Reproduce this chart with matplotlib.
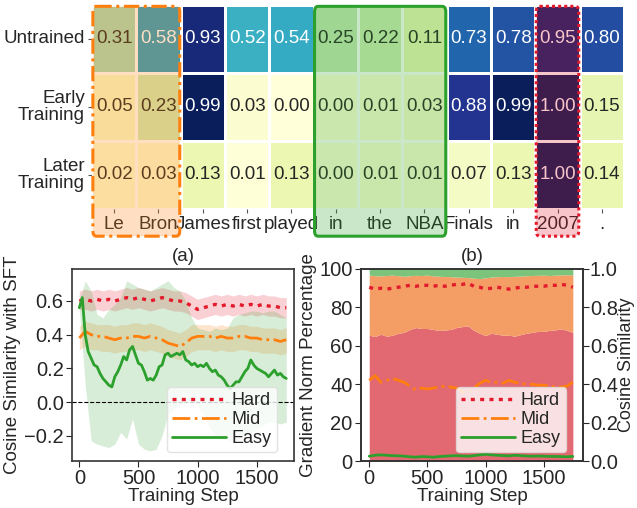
import numpy as np
import matplotlib
matplotlib.use("Agg")
import matplotlib.pyplot as plt
import seaborn as sns
from matplotlib.patches import FancyBboxPatch
from matplotlib.ticker import FormatStrFormatter

# --- heatmap data ---
tokens = ["Le", "Bron", "James", "first", "played", "in", "the", "NBA", "Finals", "in", "2007", "."]
stages = ["Untrained", "Early\nTraining", "Later\nTraining"]
untrained = [0.31, 0.58, 0.93, 0.52, 0.54, 0.25, 0.22, 0.11, 0.73, 0.78, 0.95, 0.80]
early = [0.05, 0.23, 0.99, 0.03, 0.00, 0.00, 0.01, 0.03, 0.88, 0.99, 1.00, 0.15]
later = [0.02, 0.03, 0.13, 0.01, 0.13, 0.00, 0.01, 0.01, 0.07, 0.13, 1.00, 0.14]

# --- panel (a): cosine similarity with SFT ---
steps = list(range(0, 1751, 50))
steps_fine = list(range(0, 1751, 25))
hard_mean = [0.60, 0.61, 0.60, 0.61, 0.60, 0.61, 0.60, 0.61, 0.62, 0.61, 0.62, 0.61,
             0.60, 0.61, 0.62, 0.61, 0.60, 0.60, 0.59, 0.57, 0.55, 0.56, 0.57, 0.58,
             0.57, 0.58, 0.57, 0.58, 0.57, 0.58, 0.57, 0.58, 0.57, 0.57, 0.56, 0.56]
hard_lo = [0.55, 0.55, 0.54, 0.55, 0.54, 0.55, 0.54, 0.55, 0.56, 0.55, 0.56, 0.55,
           0.54, 0.55, 0.56, 0.55, 0.54, 0.54, 0.53, 0.51, 0.49, 0.50, 0.51, 0.52,
           0.51, 0.52, 0.51, 0.52, 0.51, 0.52, 0.51, 0.52, 0.51, 0.51, 0.50, 0.50]
hard_hi = [0.66, 0.67, 0.66, 0.67, 0.66, 0.67, 0.66, 0.67, 0.68, 0.67, 0.68, 0.67,
           0.66, 0.67, 0.68, 0.67, 0.66, 0.66, 0.65, 0.63, 0.61, 0.62, 0.63, 0.64,
           0.63, 0.64, 0.63, 0.64, 0.63, 0.64, 0.63, 0.64, 0.63, 0.63, 0.62, 0.62]
mid_mean = [0.38, 0.42, 0.40, 0.39, 0.39, 0.38, 0.37, 0.38, 0.38, 0.39, 0.39, 0.38,
            0.39, 0.38, 0.37, 0.35, 0.34, 0.33, 0.35, 0.38, 0.39, 0.39, 0.39, 0.38,
            0.39, 0.38, 0.38, 0.39, 0.39, 0.38, 0.38, 0.37, 0.37, 0.37, 0.36, 0.37]
mid_lo = [0.31, 0.33, 0.31, 0.31, 0.30, 0.30, 0.29, 0.30, 0.30, 0.31, 0.31, 0.30,
          0.31, 0.30, 0.29, 0.27, 0.26, 0.25, 0.27, 0.30, 0.31, 0.31, 0.31, 0.30,
          0.31, 0.30, 0.30, 0.31, 0.31, 0.30, 0.30, 0.29, 0.29, 0.29, 0.28, 0.29]
mid_hi = [0.45, 0.48, 0.47, 0.46, 0.46, 0.46, 0.45, 0.46, 0.46, 0.47, 0.47, 0.46,
          0.47, 0.46, 0.45, 0.43, 0.42, 0.41, 0.43, 0.46, 0.46, 0.46, 0.46, 0.45,
          0.46, 0.45, 0.45, 0.46, 0.46, 0.45, 0.45, 0.44, 0.44, 0.44, 0.43, 0.44]
easy_mean = [0.56, 0.62, 0.40, 0.30, 0.26, 0.22, 0.21, 0.17, 0.14, 0.12, 0.10, 0.09,
             0.15, 0.18, 0.22, 0.27, 0.25, 0.31, 0.33, 0.28, 0.23, 0.22, 0.18, 0.13,
             0.14, 0.13, 0.16, 0.21, 0.22, 0.28, 0.29, 0.27, 0.28, 0.29, 0.28, 0.30,
             0.25, 0.24, 0.22, 0.23, 0.21, 0.22, 0.21, 0.23, 0.20, 0.18, 0.19, 0.16,
             0.15, 0.13, 0.10, 0.08, 0.10, 0.12, 0.12, 0.15, 0.18, 0.20, 0.25, 0.22,
             0.20, 0.19, 0.18, 0.17, 0.15, 0.17, 0.19, 0.16, 0.17, 0.15, 0.14]
easy_lo = [0.55, 0.10, -0.23, -0.25, -0.26, -0.27, -0.25, -0.18, -0.22, -0.10, -0.25, -0.28,
           -0.29, -0.28, -0.20, -0.07, -0.04, -0.02, 0.00, 0.01, -0.02, -0.08, -0.15, -0.20,
           -0.22, -0.22, -0.24, -0.22, -0.20, -0.18, -0.16, -0.14, -0.12, -0.12, -0.13, -0.12]
easy_hi = [0.60, 0.72, 0.66, 0.52, 0.50, 0.55, 0.58, 0.62, 0.72, 0.70, 0.68, 0.67,
           0.66, 0.68, 0.70, 0.72, 0.68, 0.66, 0.60, 0.50, 0.44, 0.43, 0.42, 0.44,
           0.43, 0.44, 0.50, 0.52, 0.53, 0.54, 0.54, 0.53, 0.54, 0.54, 0.52, 0.50]

# --- panel (b): gradient norm share (%) and cosine similarity ---
hard_pct = [65.5, 64.8, 66.0, 65.0, 65.5, 66.5, 67.0, 68.5, 69.5, 69.0, 69.0, 68.5,
            68.0, 68.2, 68.5, 69.5, 70.0, 70.3, 68.0, 66.5, 65.3, 66.5, 66.0, 65.5,
            65.5, 65.0, 65.8, 66.5, 67.0, 67.5, 67.5, 68.0, 68.3, 68.8, 68.0, 67.0]
mid_pct = [31.3, 31.7, 30.4, 31.6, 31.3, 30.0, 29.2, 28.0, 27.2, 27.6, 27.8, 27.9,
           28.2, 27.9, 27.5, 26.3, 25.7, 25.2, 27.2, 28.5, 30.1, 29.3, 30.0, 30.6,
           30.5, 31.2, 30.5, 30.0, 29.6, 29.2, 29.3, 28.6, 28.5, 28.1, 29.0, 29.9]
easy_pct = [3.2, 3.5, 3.6, 3.4, 3.2, 3.5, 3.8, 3.5, 3.3, 3.4, 3.2, 3.6,
            3.8, 3.9, 4.0, 4.2, 4.3, 4.5, 4.8, 5.0, 4.6, 4.2, 4.0, 3.9,
            4.0, 3.8, 3.7, 3.5, 3.4, 3.3, 3.2, 3.4, 3.2, 3.1, 3.0, 3.1]
hard_cos = [0.905, 0.895, 0.900, 0.895, 0.900, 0.905, 0.910, 0.915, 0.910, 0.915, 0.915, 0.910,
            0.915, 0.910, 0.915, 0.920, 0.920, 0.925, 0.910, 0.905, 0.895, 0.900, 0.905, 0.900,
            0.895, 0.900, 0.905, 0.905, 0.910, 0.910, 0.910, 0.915, 0.915, 0.920, 0.915, 0.905]
mid_cos = [0.420, 0.445, 0.410, 0.420, 0.430, 0.420, 0.410, 0.390, 0.370, 0.380, 0.375, 0.380,
           0.385, 0.390, 0.385, 0.380, 0.360, 0.355, 0.380, 0.405, 0.420, 0.410, 0.410, 0.405,
           0.420, 0.410, 0.405, 0.400, 0.400, 0.395, 0.395, 0.390, 0.385, 0.385, 0.390, 0.410]
easy_cos = [0.025, 0.030, 0.032, 0.030, 0.028, 0.027, 0.025, 0.022, 0.020, 0.023, 0.022, 0.020,
            0.023, 0.025, 0.027, 0.028, 0.026, 0.025, 0.028, 0.032, 0.035, 0.032, 0.030, 0.028,
            0.027, 0.030, 0.028, 0.026, 0.025, 0.026, 0.025, 0.024, 0.024, 0.023, 0.022, 0.024]

# colours
c_hard = "#e31a2c"
c_mid = "#ff7f0e"
c_easy = "#2ca02c"

sns.set_style("ticks")
plt.rcParams["font.family"] = ["Liberation Sans", "DejaVu Sans"]
plt.rcParams["axes.edgecolor"] = "#333333"
plt.rcParams["axes.linewidth"] = 1.2

fig = plt.figure(figsize=(6.37, 5.08), dpi=100)

# ---------------- heatmap ----------------
ax_h = fig.add_axes([0.1444, 0.5886, 0.8352, 0.4016])
mat = np.array([untrained, early, later])
sns.heatmap(mat, ax=ax_h, cmap="YlGnBu", vmin=0, vmax=1, annot=True, fmt=".2f",
            cbar=False, linewidths=1, linecolor="white",
            annot_kws={"fontsize": 13.5}, xticklabels=tokens, yticklabels=stages)
ax_h.tick_params(axis="both", length=3, width=0.8, labelsize=13.5, pad=2, color="#555555")
plt.setp(ax_h.get_yticklabels(), rotation=0, ha="right", linespacing=1.0)
plt.setp(ax_h.get_xticklabels(), rotation=0)

# highlight boxes: (first col, last col + 1, colour, linestyle)
for c0, c1, col, ls in [(0, 2, c_mid, (0, (5, 1.5, 1, 1.5))), (5, 8, c_easy, "-"), (10, 11, c_hard, (0, (1, 1)))]:
    box = FancyBboxPatch((c0 + 0.02, 0.02), c1 - c0 - 0.04, 3.38,
                         boxstyle="round,pad=0,rounding_size=0.08",
                         facecolor=col, alpha=0.25, edgecolor="none",
                         clip_on=False, zorder=5)
    ax_h.add_patch(box)
    edge = FancyBboxPatch((c0 + 0.02, 0.02), c1 - c0 - 0.04, 3.38,
                          boxstyle="round,pad=0,rounding_size=0.08",
                          facecolor="none", edgecolor=col, linewidth=2.2,
                          linestyle=ls, clip_on=False, zorder=6)
    ax_h.add_patch(edge)

# ---------------- panel (a) ----------------
ax1 = fig.add_axes([0.113, 0.0925, 0.3485, 0.378])
ax1.fill_between(steps, hard_lo, hard_hi, color=c_hard, alpha=0.2, linewidth=0)
ax1.fill_between(steps, mid_lo, mid_hi, color=c_mid, alpha=0.2, linewidth=0)
ax1.fill_between(steps, easy_lo, easy_hi, color=c_easy, alpha=0.18, linewidth=0)
ax1.plot(steps, hard_mean, color=c_hard, linestyle=(0, (1.2, 1.6)), linewidth=2.4, label="Hard")
ax1.plot(steps, mid_mean, color=c_mid, linestyle="-.", linewidth=2, label="Mid")
ax1.plot(steps_fine, easy_mean, color=c_easy, linestyle="-", linewidth=2, label="Easy")
ax1.axhline(0, color="black", linestyle="--", linewidth=0.8)
ax1.set_xlim(-62, 1815)
ax1.set_ylim(-0.35, 0.79)
ax1.set_yticks([-0.2, 0.0, 0.2, 0.4, 0.6])
ax1.set_xticks([0, 500, 1000, 1500])
ax1.tick_params(labelsize=14.5, length=4, pad=2)
ax1.set_xlabel("Training Step", fontsize=13.5, labelpad=0)
ax1.set_ylabel("Cosine Similarity with SFT", fontsize=13.5, labelpad=2)
ax1.set_title("(a)", fontsize=13.5, pad=6)
ax1.legend(loc="lower right", bbox_to_anchor=(0.925, 0.045), borderaxespad=0,
           fontsize=13, handlelength=3, handletextpad=0.3, labelspacing=0.1,
           borderpad=0.3, framealpha=0.8, edgecolor="#dddddd")

# ---------------- panel (b) ----------------
ax2 = fig.add_axes([0.5667, 0.0925, 0.3485, 0.378])
ax2.stackplot(steps, hard_pct, mid_pct, easy_pct,
              colors=["#e26872", "#f49e65", "#7cc47c"], linewidth=0)
ax2.set_xlim(-71, 1837)
ax2.set_ylim(0, 100)
ax2.set_xticks([0, 500, 1000, 1500])
ax2.set_yticks([0, 20, 40, 60, 80, 100])
ax2.tick_params(labelsize=14.5, length=4, pad=2)
ax2.set_xlabel("Training Step", fontsize=13.5, labelpad=0)
ax2.set_ylabel("Gradient Norm Percentage", fontsize=13.5, labelpad=2)
ax2.set_title("(b)", fontsize=13.5, pad=6)

ax2b = ax2.twinx()
ax2b.plot(steps, hard_cos, color=c_hard, linestyle=(0, (1.2, 1.6)), linewidth=2.4, label="Hard")
ax2b.plot(steps, mid_cos, color=c_mid, linestyle="-.", linewidth=2, label="Mid")
ax2b.plot(steps, easy_cos, color=c_easy, linestyle="-", linewidth=2, label="Easy")
ax2b.set_ylim(0, 1)
ax2b.set_yticks([0.0, 0.2, 0.4, 0.6, 0.8, 1.0])
ax2b.yaxis.set_major_formatter(FormatStrFormatter("%.1f"))
ax2b.tick_params(labelsize=14.5, length=4, pad=1)
ax2b.set_ylabel("Cosine Similarity", fontsize=13, labelpad=0)
ax2b.legend(loc="lower right", bbox_to_anchor=(0.925, 0.045), borderaxespad=0,
            fontsize=13, handlelength=3, handletextpad=0.3, labelspacing=0.1,
            borderpad=0.3, framealpha=0.8, edgecolor="#dddddd")

fig.savefig("out.png", dpi=100)
